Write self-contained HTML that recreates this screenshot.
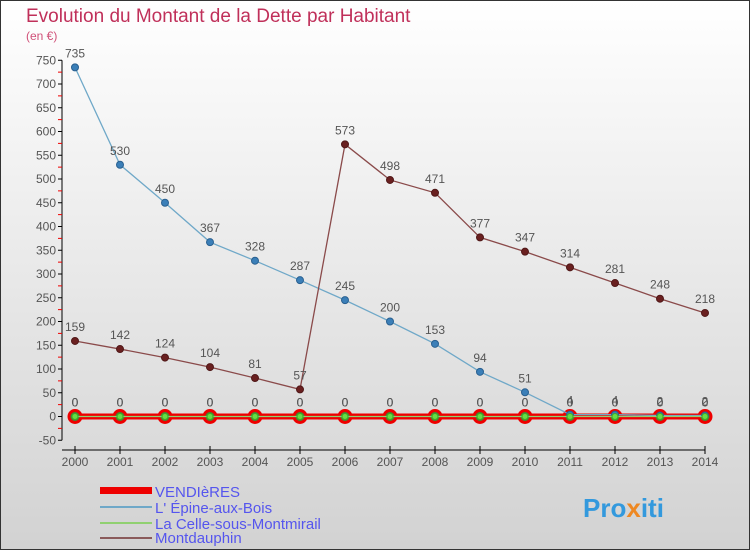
<!DOCTYPE html>
<html><head><meta charset="utf-8"><style>
html,body{margin:0;padding:0}
body{width:750px;height:550px;overflow:hidden;font-family:"Liberation Sans",sans-serif}
#wrap{position:absolute;left:0;top:0;width:748px;height:548px;border:1px solid #333;background:linear-gradient(#ffffff,#d2d2d2)}
</style></head><body>
<div id="wrap">
<svg id="chart" width="750" height="550" style="position:absolute;left:-1px;top:-1px">
<text x="26" y="22" font-size="19" fill="#c0305a">Evolution du Montant de la Dette par Habitant</text>
<text x="26" y="40" font-size="12" fill="#d05078">(en €)</text>
<g id="axes"></g><g id="series"></g>
<g>
<rect x="100" y="487" width="52" height="7" fill="#e00"/>
<text x="155" y="497" font-size="15" fill="#5555ee">VENDIèRES</text>
<rect x="100" y="506" width="52" height="2" fill="#6fa8c8"/>
<text x="155" y="513" font-size="15" fill="#5555ee">L' Épine-aux-Bois</text>
<rect x="100" y="522" width="52" height="2" fill="#90d070"/>
<text x="155" y="529" font-size="15" fill="#5555ee">La Celle-sous-Montmirail</text>
<rect x="100" y="537" width="52" height="2" fill="#8a5a5a"/>
<text x="155" y="543" font-size="15" fill="#5555ee">Montdauphin</text>
</g>
<text x="583" y="517" font-size="26" font-weight="bold" fill="#3399dd">Pro<tspan fill="#ee8822">x</tspan>iti</text>
</svg>
</div>
<script>
const years=[2000,2001,2002,2003,2004,2005,2006,2007,2008,2009,2010,2011,2012,2013,2014];
const vendieres=[0,0,0,0,0,0,0,0,0,0,0,0,0,0,0];
const epine=[735,530,450,367,328,287,245,200,153,94,51,4,4,2,2];
const celle=[0,0,0,0,0,0,0,0,0,0,0,0,0,0,0];
const montdauphin=[159,142,124,104,81,57,573,498,471,377,347,314,281,248,218];
const yTicks=[-50,0,50,100,150,200,250,300,350,400,450,500,550,600,650,700,750];
const NS="http://www.w3.org/2000/svg";
function X(i){return 75+(i)*(630/(years.length-1));}
function Y(v){return 416.5-v*0.475;}
function mk(t,a,p){const e=document.createElementNS(NS,t);for(const k in a)e.setAttribute(k,a[k]);p.appendChild(e);return e;}
const ax=document.getElementById('axes'),sg=document.getElementById('series');
const yl=mk('line',{x1:62,y1:Y(750),x2:62,y2:Y(-50),stroke:'#000'},ax);


yTicks.forEach(v=>{
 mk('line',{x1:58,x2:62,y1:Y(v),y2:Y(v),stroke:'#000'},ax);
 const t=mk('text',{x:56,y:Y(v)+4,'font-size':12,fill:'#555','text-anchor':'end'},ax);t.textContent=v;
 
 
 if(v<750) mk('line',{x1:58,x2:62,y1:Y(v+25),y2:Y(v+25),stroke:'#e00'},ax);
});
const xl=mk('line',{x1:62,y1:450,x2:X(14),y2:450,stroke:'#000'},ax);


years.forEach((y,i)=>{
 mk('line',{x1:X(i),x2:X(i),y1:446,y2:454,stroke:'#000'},ax);
 const t=mk('text',{x:X(i),y:466,'font-size':12,fill:'#555','text-anchor':'middle'},ax);t.textContent=y;
 
 
});
function series(d,name,color,w,r,fill,stroke,sw){
 const g=mk('g',{},sg);
 
 
 mk('polyline',{points:d.map((v,i)=>X(i)+','+Y(v)).join(' '),fill:'none',stroke:color,'stroke-width':w},g);
 d.forEach((v,i)=>{
  const c=mk('circle',{cx:X(i),cy:Y(v),r:r,fill:fill,stroke:stroke,'stroke-width':sw},g);
  
  
  const t=mk('text',{x:X(i),y:Y(v)-10,'font-size':12,fill:'#555','text-anchor':'middle'},g);t.textContent=v;
  
  
 });
}
series(vendieres,'vendieres','#e00',6,6,'#3a8a3a','#e00',3);
series(epine,'epine','#6fa8c8',1.3,3.5,'#3b7fb8','#2a6090',1);
series(celle,'celle','#90d070',1.3,3,'#66dd44','#44aa22',1);
series(montdauphin,'montdauphin','#8a4a4a',1.3,3.5,'#6a2020','#501818',1);
</script>
</body></html>
